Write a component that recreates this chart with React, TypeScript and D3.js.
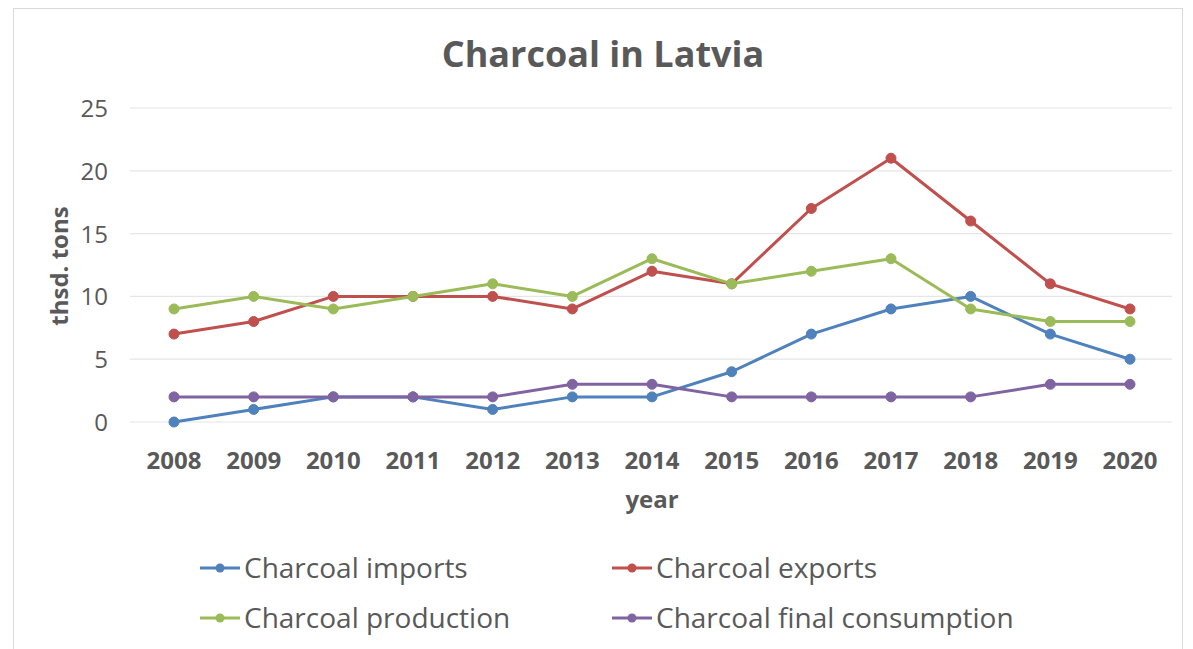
import React from "react";
import * as d3 from "d3";

const years = ["2008","2009","2010","2011","2012","2013","2014","2015","2016","2017","2018","2019","2020"];
const imports = [0,1,2,2,1,2,2,4,7,9,10,7,5];
const exportsV = [7,8,10,10,10,9,12,11,17,21,16,11,9];
const production = [9,10,9,10,11,10,13,11,12,13,9,8,8];
const consumption = [2,2,2,2,2,3,3,2,2,2,2,3,3];
const yTicks = [0,5,10,15,20,25];

const series = [
  { name: "Charcoal imports", values: imports, color: "#4F81BD" },
  { name: "Charcoal exports", values: exportsV, color: "#C0504D" },
  { name: "Charcoal production", values: production, color: "#9BBB59" },
  { name: "Charcoal final consumption", values: consumption, color: "#8064A2" },
];

export default function App() {
  const W = 1193, H = 649;
  const x = d3.scalePoint<string>().domain(years).range([174, 1130]);
  const y = d3.scaleLinear().domain([0, 25]).range([422, 108]);
  const line = d3.line<number>().x((_, i) => x(years[i])!).y(d => y(d));
  const font = "Open Sans, sans-serif";
  const gray = "#595959";
  const legendPos = [
    { lx: 200, ly: 568 },
    { lx: 612, ly: 568 },
    { lx: 200, ly: 618 },
    { lx: 612, ly: 618 },
  ];
  return (
    <svg width={W} height={H} style={{ position: "absolute", left: 0, top: 0 }}>
      <rect x={0} y={0} width={W} height={H} fill="#fff" />
      <rect x={13.5} y={8.5} width={1169} height={660} fill="#fff" stroke="#d9d9d9" strokeWidth={1} />
      <text x={603} y={67} textAnchor="middle" fontFamily={font} fontWeight="bold" fontSize={36} fill={gray}>Charcoal in Latvia</text>
      {yTicks.map(t => (
        <g key={t}>
          <line x1={130} x2={1172} y1={y(t)} y2={y(t)} stroke="#e6e6e6" strokeWidth={1.2} />
          <text x={108} y={y(t) + 9} textAnchor="end" fontFamily={font} fontSize={24} fill={gray}>{t}</text>
        </g>
      ))}
      {years.map(yr => (
        <text key={yr} x={x(yr)} y={469} textAnchor="middle" fontFamily={font} fontWeight="bold" fontSize={24} fill={gray}>{yr}</text>
      ))}
      <text x={652} y={508} textAnchor="middle" fontFamily={font} fontWeight="bold" fontSize={24} fill={gray}>year</text>
      <text transform={`translate(68,266) rotate(-90)`} textAnchor="middle" fontFamily={font} fontWeight="bold" fontSize={24} fill={gray}>thsd. tons</text>
      {series.map(s => (
        <g key={s.name}>
          <path d={line(s.values)!} fill="none" stroke={s.color} strokeWidth={3} strokeLinejoin="round" />
          {s.values.map((v, i) => (
            <circle key={i} cx={x(years[i])} cy={y(v)} r={5} fill={s.color} stroke={s.color} />
          ))}
        </g>
      ))}
      {series.map((s, i) => {
        const p = legendPos[i];
        return (
          <g key={s.name}>
            <line x1={p.lx} x2={p.lx + 40} y1={p.ly} y2={p.ly} stroke={s.color} strokeWidth={3} />
            <circle cx={p.lx + 20} cy={p.ly} r={4.5} fill={s.color} />
            <text x={p.lx + 44} y={p.ly + 10} fontFamily={font} fontSize={28} fill={gray}>{s.name}</text>
          </g>
        );
      })}
    </svg>
  );
}
